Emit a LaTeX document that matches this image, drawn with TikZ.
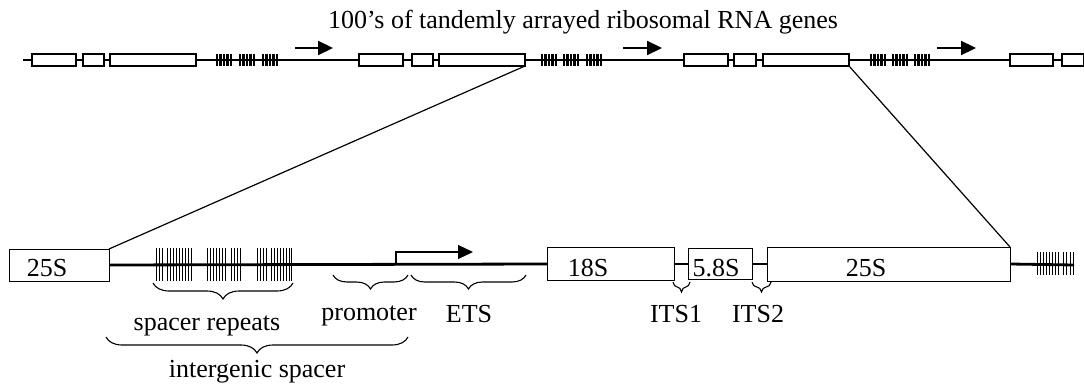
\documentclass[tikz,border=0pt]{standalone}
\usepackage{fontspec}
\setmainfont{Liberation Serif}
\usetikzlibrary{arrows.meta,decorations.pathreplacing}
\begin{document}
\begin{tikzpicture}[x=1pt,y=-1pt,
  tbox/.style={draw,fill=white,line width=1.5pt,inner sep=0pt,outer sep=0pt,minimum height=12pt},
  bbox/.style={draw,fill=white,line width=1pt,inner sep=0pt,outer sep=0pt},
  lbl/.style={font=\fontsize{26}{30}\selectfont,inner sep=0pt,anchor=base},
  tbar/.style={line width=2.1pt},
  sbar/.style={line width=0.9pt},
  brc/.style={decorate,decoration={brace,mirror,amplitude=#1},line width=1.1pt},
  fwd/.style={-{Triangle[length=15pt,width=14pt]}},
  zoomln/.style={line width=1.2pt}]
\useasboundingbox (0,0) rectangle (1084,385);

% ---------- top row ----------
\coordinate (tstart) at (23,60);
\coordinate (tend) at (1084,60);
\draw[line width=1.2pt] (tstart) -- (tend);
\foreach \a/\b/\n in {32/76/t1a,83/104/t1b,110/196/t1c,
                      359/403/t2a,412/433/t2b,439/525/t2c,
                      684/728/t3a,734/756/t3b,763/849/t3c,
                      1010/1053/t4a,1062/1084/t4b}
  \node[tbox,minimum width={(\b-\a)*1pt}] (\n) at ({(\a+\b)/2},60) {};
% top repeats
\foreach \g in {216,239,262,541,563,586,870,892,914}
  \foreach \o in {1,4.5,8,11.5,15}
    \draw[tbar] (\g+\o,54) -- (\g+\o,66);
% top arrows
\foreach \s/\e/\n in {295/333/ar1,623/662/ar2,937/976/ar3}{
  \coordinate (\n s) at (\s,48);
  \coordinate (\n e) at (\e,48);
  \draw[line width=2.2pt,fwd] (\n s) -- (\n e);
}
\node[lbl,anchor=base west] (title) at (328,29) {100’s of tandemly arrayed ribosomal RNA genes};

% ---------- bottom row ----------
\node[bbox,minimum width=100pt,minimum height=32pt] (L25) at (59,265) {};
\node[bbox,minimum width=127pt,minimum height=33pt] (s18) at (610.5,264) {};
\node[bbox,minimum width=64pt,minimum height=31pt] (s58) at (720,264) {};
\node[bbox,minimum width=243pt,minimum height=34pt] (s25) at (888.5,264) {};
\coordinate (bend) at (1074,265);

\draw[line width=2.8pt] (L25.east) -- (s18.west);
\draw[line width=2.8pt] (s18.east) -- (s58.west);
\draw[line width=2.8pt] (s58.east) -- (s25.west);
\draw[line width=2.8pt] (s25.east) -- (bend);

\node[lbl] (tL25) at (47,276) {25S};
\node[lbl] (t18) at (588,276) {18S};
\node[lbl] (t58) at (716,276) {5.8S};
\node[lbl] (t25) at (866,276) {25S};

% spacer repeats (bottom)
\foreach \o in {0,3,6,11,14,17,20,23,26,29,32,35}
  \draw[sbar] (156+\o,248) -- (156+\o,281);
\foreach \o in {0,3,6,9,12,15,18,24,27,30,33}
  \draw[sbar] (207+\o,248) -- (207+\o,281);
\foreach \o in {0,3,6,9,14,17,20,23,26,29,32,34}
  \draw[sbar] (257+\o,248) -- (257+\o,281);
\foreach \o in {0,3,6,9,12,15,18,21,26,29,33,36}
  \draw[sbar] (1037+\o,252) -- (1037+\o,275);

% promoter arrow
\coordinate (p0) at (396,265);
\coordinate (p1) at (473,252);
\draw[line width=1.2pt,fwd] (p0) |- (p1);

% zoom lines
\draw[zoomln] (t2c.south east) -- (L25.north east);
\draw[zoomln] (t3c.south east) -- (s25.north east);

% braces
\coordinate (srA) at (153,283); \coordinate (srB) at (293,283);
\draw[brc=16pt] (srA) -- (srB);
\node[lbl] (srT) at (207,330) {spacer repeats};

\coordinate (igA) at (106,337); \coordinate (igB) at (408,337);
\draw[brc=16pt] (igA) -- (igB);
\node[lbl] (igT) at (257,377) {intergenic spacer};

\coordinate (prA) at (333,275); \coordinate (prB) at (408,275);
\draw[brc=14pt] (prA) -- (prB);
\node[lbl] (prT) at (369,320) {promoter};

\coordinate (etA) at (411,275); \coordinate (etB) at (526,275);
\draw[brc=14pt] (etA) -- (etB);
\node[lbl] (etT) at (469,322) {ETS};

\coordinate (i1A) at (673,282); \coordinate (i1B) at (690,282);
\draw[brc=10pt] (i1A) -- (i1B);
\node[lbl] (i1T) at (676,322) {ITS1};

\coordinate (i2A) at (752,282); \coordinate (i2B) at (771,282);
\draw[brc=10pt] (i2A) -- (i2B);
\node[lbl] (i2T) at (758,322) {ITS2};
\end{tikzpicture}
\end{document}
